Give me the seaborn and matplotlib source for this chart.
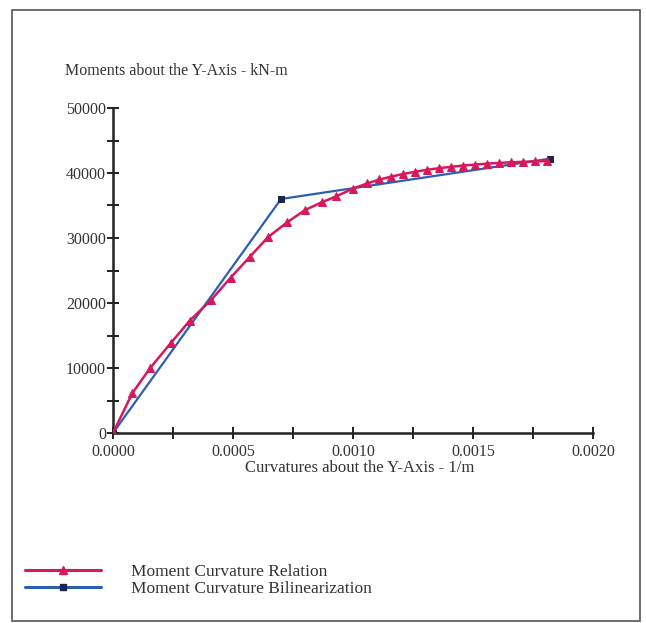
import matplotlib
matplotlib.use("Agg")
import matplotlib.pyplot as plt
from matplotlib.ticker import MultipleLocator, FuncFormatter
from matplotlib.lines import Line2D
from matplotlib.patches import Rectangle
import seaborn as sns
import pandas as pd

# Moment-curvature relation (section analysis)
relation_curvature = [0, 0.00008, 0.000155, 0.00024, 0.00032, 0.00041, 0.00049,
                      0.00057, 0.000645, 0.000725, 0.0008, 0.00087, 0.00093,
                      0.001, 0.00106, 0.00111, 0.00116, 0.00121, 0.00126,
                      0.00131, 0.00136, 0.00141, 0.00146, 0.00151, 0.00156,
                      0.00161, 0.00166, 0.00171, 0.00176, 0.00181]
relation_moment = [0, 6100, 10000, 13800, 17300, 20500, 23900, 27100, 30100,
                   32400, 34300, 35500, 36400, 37600, 38400, 39000, 39450,
                   39850, 40200, 40500, 40750, 40950, 41150, 41300, 41450,
                   41550, 41650, 41720, 41780, 41850]

# Bilinear idealisation
bilinear_curvature = [0, 0.0007, 0.00182]
bilinear_moment = [0, 36000, 42200]

series_names = ["Moment Curvature Relation", "Moment Curvature Bilinearization"]
y_title = "Moments about the Y-Axis - kN-m"
x_title = "Curvatures about the Y-Axis - 1/m"

red = "#d8185c"
blue = "#2d5fb0"
navy = "#1b2550"

sns.set_theme(style="white")
plt.rcParams["font.family"] = ["Liberation Serif", "DejaVu Serif"]

rel = pd.DataFrame({"k": relation_curvature, "M": relation_moment})
bil = pd.DataFrame({"k": bilinear_curvature, "M": bilinear_moment})

fig = plt.figure(figsize=(6.46, 6.23), dpi=100)
ax = fig.add_axes([113 / 646, 1 - 433 / 623, 480 / 646, 325 / 623])

sns.lineplot(data=bil, x="k", y="M", ax=ax, sort=False, color=blue, lw=1.6,
             marker="s", markersize=5, markerfacecolor=navy,
             markeredgecolor=navy, zorder=3)
sns.lineplot(data=rel, x="k", y="M", ax=ax, sort=False, color=red, lw=1.8,
             marker="^", markersize=5.5, markerfacecolor=red,
             markeredgecolor=red, zorder=4)

ax.set_xlim(0, 0.002)
ax.set_ylim(0, 50000)
ax.set_xlabel("")
ax.set_ylabel("")
ax.xaxis.set_major_locator(MultipleLocator(0.0005))
ax.xaxis.set_minor_locator(MultipleLocator(0.00025))
ax.yaxis.set_major_locator(MultipleLocator(10000))
ax.yaxis.set_minor_locator(MultipleLocator(5000))
ax.xaxis.set_major_formatter(FuncFormatter(lambda v, p: f"{v:.4f}"))
ax.yaxis.set_major_formatter(FuncFormatter(lambda v, p: f"{v:.0f}"))

for s in ["top", "right"]:
    ax.spines[s].set_visible(False)
for s in ["left", "bottom"]:
    ax.spines[s].set_color("#222222")
    ax.spines[s].set_linewidth(1.8)

ax.tick_params(which="both", direction="inout", length=8, width=1.4,
               color="#222222", labelsize=11.5, labelcolor="#333333",
               left=True, bottom=True)
ax.tick_params(axis="y", pad=1)
ax.tick_params(axis="x", pad=4)

fig.text(65 / 646, 1 - 71 / 623, y_title, fontsize=11.5, color="#333333",
         ha="left", va="center")
fig.text(360 / 646, 1 - 468 / 623, x_title, fontsize=12, color="#333333",
         ha="center", va="center")

handles = [
    Line2D([], [], color=red, lw=2.2, marker="^", markersize=6,
           markerfacecolor=red, markeredgecolor=red),
    Line2D([], [], color=blue, lw=2.2, marker="s", markersize=4,
           markerfacecolor=navy, markeredgecolor=navy),
]
fig.legend(handles, series_names, loc="upper left",
           bbox_to_anchor=(25 / 646, 1 - 564 / 623), frameon=False,
           fontsize=12.5, handlelength=4.4, handletextpad=1.7,
           labelspacing=0.05, borderpad=0, borderaxespad=0,
           labelcolor="#333333")

fig.add_artist(Rectangle((12 / 646, 2 / 623), 628 / 646, 611 / 623,
                         transform=fig.transFigure, fill=False,
                         edgecolor="#555555", lw=1.2))

fig.savefig("out.png", dpi=100, facecolor="white")
